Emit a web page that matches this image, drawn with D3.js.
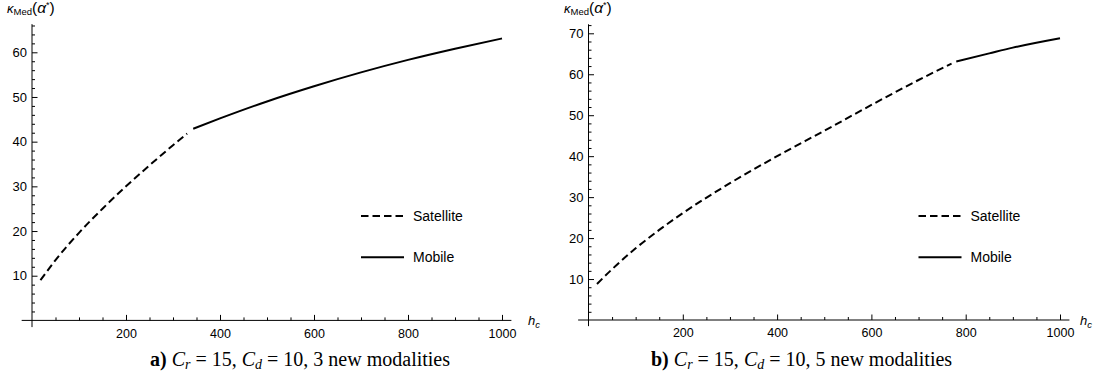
<!DOCTYPE html>
<html><head><meta charset="utf-8">
<script src="https://cdn.jsdelivr.net/npm/d3@7"></script>
<style>body{margin:0;background:#fff} svg{display:block}</style>
</head><body><svg id="c" width="1095" height="379"></svg>
<script>
// ---- data ----
const xTickMajor = [200, 400, 600, 800, 1000];
const xTickMinor = [50, 100, 150, 250, 300, 350, 450, 500, 550, 650, 700, 750, 850, 900, 950];
const yTicksA = [10, 20, 30, 40, 50, 60];
const yTicksB = [10, 20, 30, 40, 50, 60, 70];

const hSatA = [18, 50, 100, 150, 200, 250, 300, 330];
const satA  = [9.0, 13.5, 19.6, 25.0, 30.0, 34.7, 39.2, 41.8];
const hMobA = [343, 400, 500, 600, 700, 800, 900, 1000];
const mobA  = [42.9, 45.2, 49.0, 52.4, 55.5, 58.3, 60.8, 63.1];

const hSatB = [18, 50, 100, 150, 200, 300, 400, 500, 600, 700, 770];
const satB  = [8.8, 12.4, 17.5, 22.0, 26.1, 33.4, 40.0, 46.2, 52.5, 58.6, 62.6];
const hMobB = [780, 850, 900, 1000];
const mobB  = [63.1, 65.1, 66.5, 68.8];

const seriesNames = ["Satellite", "Mobile"];
const captionLabels = ["a)", "b)"];
const modalities = ["3", "5"];

// ---- layout ----
const panels = [
  {hSat: hSatA, sat: satA, hMob: hMobA, mob: mobA, yTicks: yTicksA, yRef: 60,
   xr: [32, 502], yr: [320.4, 52.3], yTop: 66.3, legX: 361, titleX: 7, hcX: 528, capX: 150,
   cap: captionLabels[0], n: modalities[0]},
  {hSat: hSatB, sat: satB, hMob: hMobB, mob: mobB, yTicks: yTicksB, yRef: 70,
   xr: [588.5, 1060], yr: [320, 33.3], yTop: 72.2, legX: 918.5, titleX: 564, hcX: 1080, capX: 651,
   cap: captionLabels[1], n: modalities[1]}
];

const svg = d3.select("#c");
const sans = "'Liberation Sans', Arial, sans-serif";
const serif = "'Liberation Serif', 'Times New Roman', serif";

panels.forEach(p => {
  const x = d3.scaleLinear().domain([0, 1000]).range(p.xr);
  const y = d3.scaleLinear().domain([0, p.yRef]).range(p.yr);
  const g = svg.append("g");

  // axis lines
  g.append("line").attr("x1", x(-22)).attr("x2", x(1020)).attr("y1", y(0)).attr("y2", y(0))
    .attr("stroke", "#000").attr("stroke-width", 1);
  g.append("line").attr("x1", x(0)).attr("x2", x(0)).attr("y1", y(-1.5)).attr("y2", y(p.yTop))
    .attr("stroke", "#000").attr("stroke-width", 1);

  // x axis major
  const xa = g.append("g").attr("transform", `translate(0,${y(0)})`)
    .call(d3.axisBottom(x).tickValues(xTickMajor).tickSize(-5.5).tickPadding(8.5).tickFormat(d3.format("d")));
  xa.select(".domain").remove();
  xa.attr("font-family", sans).attr("font-size", 12.5);
  const xm = g.append("g").attr("transform", `translate(0,${y(0)})`)
    .call(d3.axisBottom(x).tickValues(xTickMinor).tickSize(-3).tickFormat(""));
  xm.select(".domain").remove();

  // y axis major
  const ya = g.append("g").attr("transform", `translate(${x(0)},0)`)
    .call(d3.axisLeft(y).tickValues(p.yTicks).tickSize(-5.5).tickPadding(5).tickFormat(d3.format("d")));
  ya.select(".domain").remove();
  ya.attr("font-family", sans).attr("font-size", 13);
  const yMinor = d3.range(2, p.yTop, 2).filter(v => v % 10 !== 0);
  const ym = g.append("g").attr("transform", `translate(${x(0)},0)`)
    .call(d3.axisLeft(y).tickValues(yMinor).tickSize(-3).tickFormat(""));
  ym.select(".domain").remove();
  g.selectAll(".tick line").attr("stroke-width", 1);

  // curves
  const line = d3.line().x(d => x(d[0])).y(d => y(d[1])).curve(d3.curveMonotoneX);
  g.append("path").datum(d3.zip(p.hSat, p.sat)).attr("d", line)
    .attr("fill", "none").attr("stroke", "#000").attr("stroke-width", 2)
    .attr("stroke-dasharray", "7.5,4");
  g.append("path").datum(d3.zip(p.hMob, p.mob)).attr("d", line)
    .attr("fill", "none").attr("stroke", "#000").attr("stroke-width", 2);

  // legend
  const leg = [{n: seriesNames[0], dash: "7.5,4", y: 216}, {n: seriesNames[1], dash: null, y: 257.3}];
  leg.forEach(l => {
    g.append("line").attr("x1", p.legX).attr("x2", p.legX + 43).attr("y1", l.y).attr("y2", l.y)
      .attr("stroke", "#000").attr("stroke-width", 2).attr("stroke-dasharray", l.dash);
    g.append("text").attr("x", p.legX + 52).attr("y", l.y + 4.8)
      .attr("font-family", sans).attr("font-size", 14).text(l.n);
  });

  // y title  κ_Med(α*)
  const t = g.append("text").attr("x", p.titleX).attr("y", 13.3).attr("font-family", sans);
  t.append("tspan").attr("font-size", 13).attr("font-style", "italic").text("κ");
  t.append("tspan").attr("font-size", 9.5).attr("dy", 1.8).text("Med");
  t.append("tspan").attr("font-size", 15.5).attr("dy", -1.8).text("(");
  t.append("tspan").attr("font-size", 15.5).attr("font-style", "italic").text("α");
  t.append("tspan").attr("font-size", 9).attr("dy", -5.5).text("*");
  t.append("tspan").attr("font-size", 15.5).attr("dy", 5.5).text(")");

  // x title h_c
  const hc = g.append("text").attr("x", p.hcX).attr("y", 325).attr("font-family", sans).attr("font-style", "italic");
  hc.append("tspan").attr("font-size", 13).text("h");
  hc.append("tspan").attr("font-size", 9.5).attr("dy", 3).text("c");

  // caption
  const c = g.append("text").attr("x", p.capX).attr("y", 366).attr("font-family", serif).attr("font-size", 20);
  c.append("tspan").attr("font-weight", "bold").text(p.cap + " ");
  c.append("tspan").attr("font-style", "italic").text("C");
  c.append("tspan").attr("font-style", "italic").attr("font-size", 14).attr("dy", 3).text("r");
  c.append("tspan").attr("dy", -3).text(" = 15, ");
  c.append("tspan").attr("font-style", "italic").text("C");
  c.append("tspan").attr("font-style", "italic").attr("font-size", 14).attr("dy", 3).text("d");
  c.append("tspan").attr("dy", -3).text(" = 10, " + p.n + " new modalities");
});
</script>
</body></html>
